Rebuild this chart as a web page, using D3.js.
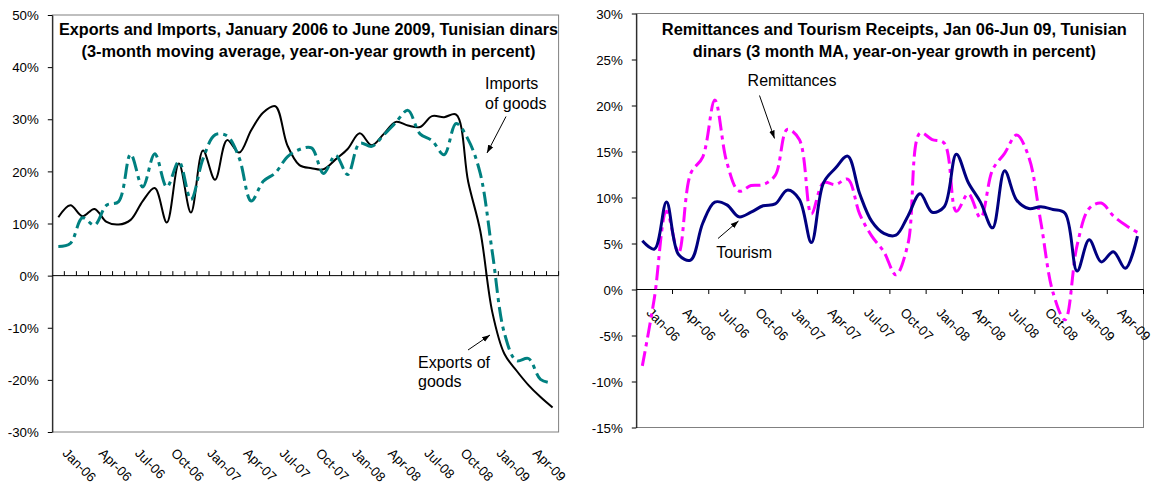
<!DOCTYPE html>
<html><head><meta charset="utf-8">
<script src="https://cdn.jsdelivr.net/npm/d3@7"></script>
<style>
html,body{margin:0;padding:0;background:#fff;}
svg{display:block;}
text{font-family:"Liberation Sans",Arial,Helvetica,sans-serif;fill:#000;}
</style>
</head><body>
<svg id="c" width="1160" height="485"></svg>
<script>
// ---------------- DATA ----------------
const months = ["Jan-06","Feb-06","Mar-06","Apr-06","May-06","Jun-06","Jul-06","Aug-06","Sep-06","Oct-06","Nov-06","Dec-06",
  "Jan-07","Feb-07","Mar-07","Apr-07","May-07","Jun-07","Jul-07","Aug-07","Sep-07","Oct-07","Nov-07","Dec-07",
  "Jan-08","Feb-08","Mar-08","Apr-08","May-08","Jun-08","Jul-08","Aug-08","Sep-08","Oct-08","Nov-08","Dec-08",
  "Jan-09","Feb-09","Mar-09","Apr-09","May-09","Jun-09"];

// Left panel: exports & imports of goods, y/y growth %, 3-month MA
const exportsGoods = [11.2,13.5,11.4,12.8,10.3,9.8,10.7,14.3,16.8,10.2,21.5,12.1,
  24.0,18.4,26.0,23.6,27.9,31.3,32.5,25.0,21.2,20.6,20.4,22.3,
  24.3,27.3,25.0,27.2,29.5,28.8,28.5,30.6,30.4,30.9,18.0,8.6,
  -7.0,-15.0,-18.2,-21.0,-23.3,-25.3];
const importsGoods = [5.6,6.2,11.1,9.7,13.5,14.2,23.3,17.0,23.4,17.0,21.9,14.6,
  22.4,27.0,26.8,22.6,14.3,18.1,19.7,22.8,24.2,24.5,19.6,23.1,
  19.4,25.4,24.8,27.0,29.4,31.7,27.2,25.9,23.2,29.2,26.1,19.6,
  4.5,-11.0,-16.3,-15.9,-19.9,-20.6];

// Right panel: remittances & tourism receipts, y/y growth %, 3-month MA
const tourism = [5.3,4.4,9.5,3.8,3.2,7.2,9.5,9.2,7.9,8.4,9.1,9.3,
  10.8,9.8,5.1,11.6,13.2,14.5,10.4,7.4,6.1,5.9,8.0,10.4,
  8.4,9.0,14.7,11.6,9.5,6.7,12.9,9.7,8.8,9.0,8.7,8.3,
  2.0,5.4,3.0,4.1,2.3,5.8];
const remittances = [-8.3,-0.9,8.5,4.0,12.6,14.4,20.6,13.8,10.7,11.3,11.4,12.4,
  17.4,16.3,8.2,11.6,11.4,12.0,8.2,5.8,4.1,1.6,5.0,17.0,
  16.3,15.9,8.5,10.4,7.8,13.0,14.8,16.8,14.4,7.3,-0.3,-3.3,
  4.8,8.8,9.4,8.0,7.0,6.2];

const leftTicks = [50,40,30,20,10,0,-10,-20,-30];
const rightTicks = [30,25,20,15,10,5,0,-5,-10,-15];
const labelMonths = months.filter((m,i)=> i % 3 === 0);

const leftTitle = ["Exports and Imports, January 2006 to June 2009, Tunisian dinars",
                   "(3-month moving average, year-on-year growth in percent)"];
const rightTitle = ["Remittances and Tourism Receipts, Jan 06-Jun 09, Tunisian",
                    "dinars (3 month MA, year-on-year growth in percent)"];

// ---------------- DRAW ----------------
const svg = d3.select("#c");
svg.append("rect").attr("width",1160).attr("height",485).attr("fill","#fff");
const defs = svg.append("defs");
defs.append("marker").attr("id","ah").attr("viewBox","0 0 10 10")
  .attr("refX",10).attr("refY",5).attr("markerWidth",8).attr("markerHeight",8)
  .attr("markerUnits","userSpaceOnUse").attr("orient","auto")
  .append("path").attr("d","M0,1.5 L10,5 L0,8.5 z").attr("fill","#000");

function panel(cfg){
  const g = svg.append("g");
  const x = d3.scaleBand().domain(months).range([cfg.x0, cfg.x1]).padding(0);
  const bw = x.bandwidth();
  const y = d3.scaleLinear().domain(cfg.domain).range([cfg.yBot, cfg.yTop]);

  // plot-area border
  g.append("rect").attr("x",cfg.x0).attr("y",cfg.yTop)
    .attr("width",cfg.x1-cfg.x0).attr("height",cfg.yBot-cfg.yTop)
    .attr("fill","none").attr("stroke","#808080").attr("stroke-width",1);

  // zero line
  g.append("line").attr("x1",cfg.x0).attr("x2",cfg.x1)
    .attr("y1",y(0)).attr("y2",y(0)).attr("stroke","#000").attr("stroke-width",1);

  // category boundary tick marks on the zero line
  const tickMonths = months.filter((m,i)=> i>0 && i % cfg.tickEvery === 0);
  const bounds = tickMonths.map(m=>x(m)).concat([cfg.x1]);
  g.selectAll(".bt").data(bounds).enter().append("line")
    .attr("x1",d=>d).attr("x2",d=>d)
    .attr("y1",y(0)).attr("y2",y(0)+cfg.tickDir*4.5)
    .attr("stroke","#000").attr("stroke-width",1);

  // category labels
  const xa = g.append("g").attr("transform",`translate(0,${cfg.labelY})`)
    .call(d3.axisBottom(x).tickValues(labelMonths).tickSize(0).tickSizeOuter(0));
  xa.select(".domain").remove();
  xa.selectAll("text").attr("y",0).attr("dy",0).attr("x",0)
    .attr("transform",`translate(${cfg.labOff[0]},${cfg.labOff[1]}) rotate(45)`)
    .style("text-anchor","start").attr("font-size",13.3)
    .attr("font-family",'"Liberation Sans",Arial,sans-serif').attr("fill","#000");

  // series
  const line = d3.line().x((d,i)=>x(months[i])+bw/2).y(d=>y(d))
    .curve(d3.curveCatmullRom.alpha(0.5));
  cfg.series.forEach(s=>{
    g.append("path").datum(s.data).attr("d",line).attr("fill","none")
      .attr("stroke",s.color).attr("stroke-width",s.width)
      .attr("stroke-dasharray",s.dash||null)
      .attr("stroke-linejoin","round");
  });

  // y axis
  const ya = g.append("g").attr("transform",`translate(${cfg.x0},0)`)
    .call(d3.axisLeft(y).tickValues(cfg.ticks).tickSize(4.5).tickSizeOuter(0).tickPadding(9)
      .tickFormat(d=>d+"%"));
  ya.select(".domain").attr("stroke","#000");
  ya.selectAll("line").attr("stroke","#000");
  ya.selectAll("text").attr("font-size",13.3).attr("dy","0.35em")
    .attr("font-family",'"Liberation Sans",Arial,sans-serif').attr("fill","#000");

  // title
  cfg.title.forEach((t,i)=>{
    g.append("text").attr("x",cfg.titleX).attr("y",cfg.titleY[i])
      .attr("text-anchor","middle").attr("font-weight","bold").attr("font-size",16)
      .attr("textLength",cfg.titleW[i]).attr("lengthAdjust","spacingAndGlyphs")
      .text(t);
  });

  // annotations
  cfg.notes.forEach(n=>{
    n.lines.forEach((t,i)=>{
      g.append("text").attr("x",n.x).attr("y",n.y + i*n.lh).attr("font-size",16).text(t);
    });
    g.append("line").attr("x1",n.arrow[0]).attr("y1",n.arrow[1])
      .attr("x2",n.arrow[2]).attr("y2",n.arrow[3])
      .attr("stroke","#000").attr("stroke-width",1).attr("marker-end","url(#ah)");
  });
}

panel({
  x0:52.3, x1:558.6, yTop:15, yBot:432, domain:[-30,50], ticks:leftTicks,
  tickEvery:1, tickDir:-1, labelY:432, labOff:[3.5,22],
  series:[
    {data:exportsGoods, color:"#000000", width:2},
    {data:importsGoods, color:"#008080", width:3, dash:"15,5,4,5"}
  ],
  title:leftTitle, titleX:308.5, titleY:[35,57], titleW:[499,454],
  notes:[
    {lines:["Imports","of goods"], x:485, y:89, lh:19.5, arrow:[506,116.5,487,153]},
    {lines:["Exports of","goods"], x:418, y:368, lh:19, arrow:[468,350,490,335]}
  ]
});

panel({
  x0:636.3, x1:1143.5, yTop:13.5, yBot:427.5, domain:[-15,30], ticks:rightTicks,
  tickEvery:3, tickDir:1, labelY:289.5, labOff:[3.5,24],
  series:[
    {data:remittances, color:"#FF00FF", width:3, dash:"15,5,4,5"},
    {data:tourism, color:"#000080", width:3}
  ],
  title:rightTitle, titleX:894.3, titleY:[34.5,57], titleW:[465,403],
  notes:[
    {lines:["Remittances"], x:747.6, y:86, lh:19, arrow:[759.5,95.5,774.5,138.5]},
    {lines:["Tourism"], x:716.2, y:258.3, lh:19, arrow:[718,238.5,738.5,221]}
  ]
});
</script>
</body></html>
